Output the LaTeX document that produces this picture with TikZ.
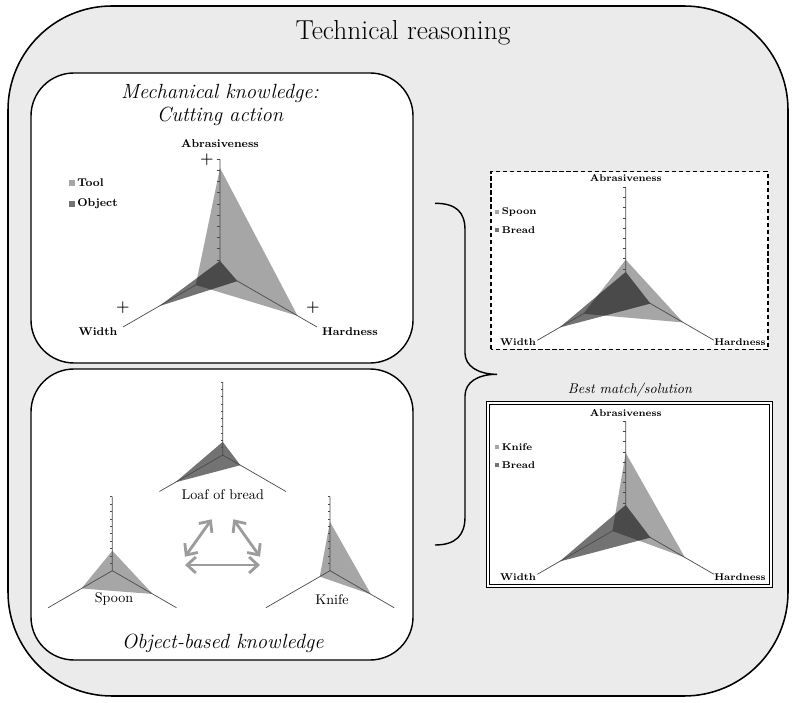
\documentclass[tikz,border=0pt]{standalone}
\usepackage{xcolor}
\usepackage{tikz}
\usetikzlibrary{arrows.meta, positioning, calc}

\definecolor{panelgray}{HTML}{EBEBEB}
\definecolor{lightser}{HTML}{A6A6A6}
\definecolor{axisgray}{HTML}{4A4A4A}
\definecolor{arrowgray}{HTML}{9C9C9C}

% the three spokes of a radar chart, ticks on the upper one
\newcommand{\spokes}[1]{%
  \draw[axisgray, line width=0.5pt] (90:#1) -- (0,0) -- (210:#1) (0,0) -- (330:#1);
  \foreach \t in {1,...,10}
    \draw[axisgray, line width=0.3pt] (-0.03*#1, \t*0.1*#1) -- (0, \t*0.1*#1);
}

\begin{document}
\begin{tikzpicture}[
    x=0.25mm, y=0.25mm,
    panel/.style={draw, fill=white, line width=1pt, rounded corners=10.75mm},
    heading/.style={font=\fontsize{14.6}{17}\selectfont\itshape, align=center, inner sep=0pt},
    axlabel/.style={font=\fontsize{8}{10}\selectfont\bfseries, inner sep=0pt},
    smlabel/.style={font=\fontsize{7}{9}\selectfont\bfseries, inner sep=0pt},
    objlabel/.style={font=\fontsize{10}{12}\selectfont, inner sep=0pt},
    plus/.style={font=\fontsize{11}{12}\selectfont\bfseries, inner sep=0pt},
    keybox/.style={minimum size=1.3mm, inner sep=0pt},
    darkser/.style={fill=black, fill opacity=0.55},
    bigarrow/.style={arrowgray, line width=2pt, {Straight Barb[length=2.2mm, width=4mm]}-{Straight Barb[length=2.2mm, width=4mm]}}
]
    \useasboundingbox (0,0) rectangle (797,702);

    % Outer frame
    \draw[fill=panelgray, line width=1.1pt, rounded corners=26mm] (8,6) rectangle (788,696);
    \node[font=\fontsize{19.5}{23}\selectfont, inner sep=0pt] (title) at (403,669) {Technical reasoning};

    % Panels
    \draw[panel] (31,339) rectangle (413,629);
    \draw[panel] (31,42) rectangle (413,333);
    \draw[fill=white, line width=0.9pt, dash pattern=on 3pt off 2pt] (491,352.7) rectangle (768,530.3);
    \draw[fill=white, double, line width=0.8pt, double distance=1.2pt] (488.3,116.3) rectangle (770.7,298.7);

    % Mechanical knowledge
    \node[heading] (mechtitle) at (220,597) {Mechanical knowledge:\\Cutting action};
    \coordinate (mech) at (220,431);
    \begin{scope}[shift={(mech)}]
        \def\R{112}
        \fill[lightser] (90:0.92*\R) -- (330:0.80*\R) -- (210:0.25*\R) -- cycle;
        \fill[darkser] (90:0.09*\R) -- (330:0.18*\R) -- (210:0.63*\R) -- cycle;
        \spokes{\R}
    \end{scope}
    \node[axlabel] (mechA) at (220,558) {Abrasiveness};
    \node[axlabel] (mechW) at (98,370) {Width};
    \node[axlabel] (mechH) at (350,370) {Hardness};
    \node[plus] (plusA) at (207,542) {+};
    \node[plus] (plusW) at (123,394) {+};
    \node[plus] (plusH) at (313,394) {+};
    \node[keybox, fill=lightser] (toolkey) at (72,519) {};
    \node[axlabel, right=1.5pt of toolkey] (tooltxt) {Tool};
    \node[keybox, fill=black!55] (objkey) at (72,498) {};
    \node[axlabel, right=1.5pt of objkey] (objtxt) {Object};

    % Object-based knowledge
    \coordinate (loaf) at (222.7,247);
    \begin{scope}[shift={(loaf)}]
        \def\R{73}
        \fill[darkser] (90:0.18*\R) -- (330:0.28*\R) -- (210:0.75*\R) -- cycle;
        \spokes{\R}
    \end{scope}
    \coordinate (spoon) at (112.3,131.3);
    \begin{scope}[shift={(spoon)}]
        \def\R{74}
        \fill[lightser] (90:0.27*\R) -- (330:0.63*\R) -- (210:0.48*\R) -- cycle;
        \spokes{\R}
    \end{scope}
    \coordinate (knife) at (330,131.3);
    \begin{scope}[shift={(knife)}]
        \def\R{74}
        \fill[lightser] (90:0.66*\R) -- (330:0.64*\R) -- (210:0.16*\R) -- cycle;
        \spokes{\R}
    \end{scope}
    \node[objlabel] (loaftxt) at (222.7,207) {Loaf of bread};
    \node[objlabel] (spoontxt) at (114,103) {Spoon};
    \node[objlabel] (knifetxt) at (332,102) {Knife};
    \node[heading] (objtitle) at (222.7,59) {Object-based knowledge};

    \coordinate (a1) at (185,145.3);
    \coordinate (a2) at (211.7,182.7);
    \coordinate (a3) at (233.3,182.7);
    \coordinate (a4) at (260,145.3);
    \coordinate (a5) at (185,137);
    \coordinate (a6) at (260,137);
    \draw[bigarrow] (a1) -- (a2);
    \draw[bigarrow] (a3) -- (a4);
    \draw[bigarrow] (a5) -- (a6);

    % Brace
    \coordinate (bracetop) at (435,498.7);
    \coordinate (bracetip) at (497,327.7);
    \coordinate (bracebot) at (435,157);
    \draw[line width=1pt] (bracetop) .. controls (456,498.7) and (465,490) .. (465,472)
        -- (465,349) .. controls (465,336) and (478,327.7) .. (bracetip)
        .. controls (478,327.7) and (465,320) .. (465,306)
        -- (465,185) .. controls (465,167) and (456,157) .. (bracebot);

    % Spoon vs bread
    \coordinate (trial) at (625.7,412.7);
    \begin{scope}[shift={(trial)}]
        \def\R{102}
        \fill[lightser] (90:0.29*\R) -- (330:0.65*\R) -- (210:0.48*\R) -- cycle;
        \fill[darkser] (90:0.17*\R) -- (330:0.28*\R) -- (210:0.75*\R) -- cycle;
        \spokes{\R}
    \end{scope}
    \node[smlabel] (trialA) at (625.7,524) {Abrasiveness};
    \node[smlabel] (trialW) at (518,360) {Width};
    \node[smlabel] (trialH) at (740,360) {Hardness};
    \node[keybox, fill=lightser, minimum size=1.1mm] (spoonkey) at (497,490) {};
    \node[smlabel, right=1.5pt of spoonkey] {Spoon};
    \node[keybox, fill=black!55, minimum size=1.1mm] (breadkey) at (497,472) {};
    \node[smlabel, right=1.5pt of breadkey] {Bread};

    % Best match
    \node[font=\fontsize{10}{12}\selectfont\itshape, inner sep=0pt] (besttxt) at (630,312) {Best match/solution};
    \coordinate (best) at (625.7,178.7);
    \begin{scope}[shift={(best)}]
        \def\R{102}
        \fill[lightser] (90:0.69*\R) -- (330:0.67*\R) -- (210:0.15*\R) -- cycle;
        \fill[darkser] (90:0.18*\R) -- (330:0.28*\R) -- (210:0.75*\R) -- cycle;
        \spokes{\R}
    \end{scope}
    \node[smlabel] (bestA) at (625.7,289) {Abrasiveness};
    \node[smlabel] (bestW) at (518,125) {Width};
    \node[smlabel] (bestH) at (740,125) {Hardness};
    \node[keybox, fill=lightser, minimum size=1.1mm] (knifekey) at (497,255) {};
    \node[smlabel, right=1.5pt of knifekey] {Knife};
    \node[keybox, fill=black!55, minimum size=1.1mm] (bread2key) at (497,237) {};
    \node[smlabel, right=1.5pt of bread2key] {Bread};
\end{tikzpicture}
\end{document}
